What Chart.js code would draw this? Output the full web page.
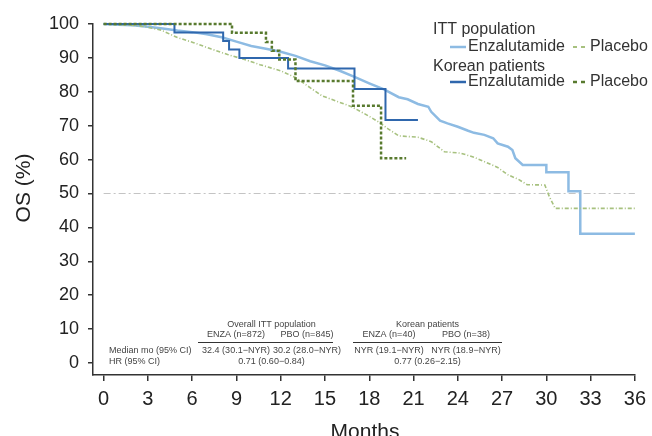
<!DOCTYPE html>
<html>
<head>
<meta charset="utf-8">
<title>OS Kaplan-Meier</title>
<script src="https://cdn.jsdelivr.net/npm/chart.js@4.4.1/dist/chart.umd.min.js"></script>
<style>
  html, body { margin: 0; padding: 0; background: #fff; }
  #wrap { width: 652px; height: 436px; }
</style>
</head>
<body>
<div id="wrap"><canvas id="osChart" width="652" height="436"></canvas></div>
<script>
// Data (months, OS %)
const ittEnzaMonths = [0, 1, 2, 3, 4, 5, 6, 7, 8, 9, 10, 11, 12, 13, 14, 15, 16, 17, 18, 19, 20, 20.6, 21.3, 22, 22.2, 22.8, 23.3, 24, 24.7, 25.1, 25.8, 26.4, 26.7, 27.4, 27.7, 27.9, 28.4, 30.0, 30.0, 31.5, 31.5, 32.3, 32.3, 36];
const ittEnzaOS     = [100, 99.8, 99.6, 99.2, 98.7, 98.1, 97.6, 97.0, 96.1, 94.8, 93.5, 92.7, 91.8, 90.6, 89.0, 87.8, 86.2, 84.4, 82.5, 80.7, 78.4, 77.8, 76.4, 75.6, 74.1, 71.5, 70.7, 69.7, 68.5, 67.9, 67.3, 66.3, 64.8, 63.8, 62.8, 60.4, 58.4, 58.4, 56.3, 56.3, 50.7, 50.7, 38.1, 38.1];

const ittPboMonths = [0, 1, 2, 2.8, 3.9, 5, 6.1, 7.3, 8.4, 9.5, 10.6, 12, 13, 14.2, 14.8, 15.8, 16.8, 17.7, 18.6, 19.3, 20, 21.3, 22.2, 23.1, 24.2, 25.1, 25.8, 26.7, 27.4, 28.1, 28.7, 29.9, 30.2, 30.6, 36];
const ittPboOS     = [100, 99.8, 99.6, 99.2, 98.2, 96.0, 94.5, 92.6, 91.0, 89.6, 88.0, 86.2, 84.2, 80.6, 78.8, 77.2, 75.6, 73.5, 71.2, 69.0, 67.0, 66.6, 65.3, 62.3, 61.9, 60.7, 59.4, 57.7, 55.5, 54.2, 52.6, 52.5, 49.1, 45.6, 45.6];

const korEnzaMonths = [0, 4.8, 8.1, 8.5, 9.2, 12.5, 17.0, 19.1, 21.3];
const korEnzaOS     = [100, 97.5, 95.0, 92.5, 90.0, 86.9, 80.8, 71.7, 71.7];

const korPboMonths = [0, 8.7, 11.0, 11.4, 11.9, 13.0, 16.9, 18.8, 20.5];
const korPboOS     = [100, 97.4, 94.7, 92.1, 89.5, 83.2, 75.9, 60.4, 60.4];

const medianLine = [50, 50];
const medianLineMonths = [0, 36];

const xTicks = [0, 3, 6, 9, 12, 15, 18, 21, 24, 27, 30, 33, 36];
const yTicks = [0, 10, 20, 30, 40, 50, 60, 70, 80, 90, 100];

// Summary table text
const tableGroups = ['Overall ITT population', 'Korean patients'];
const tableArms = ['ENZA (n=872)', 'PBO (n=845)', 'ENZA (n=40)', 'PBO (n=38)'];
const medianRow = ['Median mo (95% CI)', '32.4 (30.1−NYR)', '30.2 (28.0−NYR)', 'NYR (19.1−NYR)', 'NYR (18.9−NYR)'];
const hrRow = ['HR (95% CI)', '0.71 (0.60−0.84)', '0.77 (0.26−2.15)'];

const colors = {
    ittEnza: '#8dbbe3',
    ittPbo: '#a7c17f',
    korEnza: '#2f67ad',
    korPbo: '#587a2e',
    ref: '#c4c4c4',
    axis: '#333333',
    text: '#222222',
    table: '#444444'
};

function toPoints(xs, ys) {
    return xs.map((x, i) => ({ x: x, y: ys[i] }));
}

const FONT = '"Liberation Sans", Arial, Helvetica, sans-serif';

// Axis titles, legend and the summary table
const annotations = {
    id: 'annotations',
    afterDraw(chart) {
        const ctx = chart.ctx;
        ctx.save();

        // axis titles
        ctx.fillStyle = colors.text;
        ctx.font = '21px ' + FONT;
        ctx.textAlign = 'center';
        ctx.textBaseline = 'top';
        ctx.fillText('Months', 365, 422);
        ctx.save();
        ctx.translate(24, 188);
        ctx.rotate(-Math.PI / 2);
        ctx.textBaseline = 'middle';
        ctx.fillText('OS (%)', 0, 0);
        ctx.restore();

        // legend
        ctx.font = '16px ' + FONT;
        ctx.textAlign = 'left';
        ctx.textBaseline = 'middle';
        ctx.fillStyle = '#333';
        ctx.fillText('ITT population', 433, 30);
        ctx.fillText('Enzalutamide', 468, 47);
        ctx.fillText('Placebo', 590, 47);
        ctx.fillText('Korean patients', 433, 67);
        ctx.fillText('Enzalutamide', 468, 82);
        ctx.fillText('Placebo', 590, 82);

        const sample = (x1, x2, y, color, width, dash) => {
            ctx.beginPath();
            ctx.setLineDash(dash);
            ctx.strokeStyle = color;
            ctx.lineWidth = width;
            ctx.moveTo(x1, y);
            ctx.lineTo(x2, y);
            ctx.stroke();
        };
        sample(450, 466, 47, colors.ittEnza, 2.5, []);
        sample(573, 586, 47, colors.ittPbo, 2, [4, 4]);
        sample(450, 466, 82, colors.korEnza, 2.5, []);
        sample(573, 586, 82, colors.korPbo, 2.5, [4, 4]);
        ctx.setLineDash([]);

        // table: arm columns centred under their headers
        const cols = [236, 307, 389, 466];
        ctx.fillStyle = colors.table;
        ctx.font = '9px ' + FONT;
        ctx.textAlign = 'center';
        ctx.fillText(tableGroups[0], (cols[0] + cols[1]) / 2, 325);
        ctx.fillText(tableGroups[1], (cols[2] + cols[3]) / 2, 325);
        tableArms.forEach((t, i) => ctx.fillText(t, cols[i], 335));

        ctx.strokeStyle = '#333';
        ctx.lineWidth = 1;
        ctx.beginPath();
        ctx.moveTo(198, 342.5); ctx.lineTo(333, 342.5);
        ctx.moveTo(353, 342.5); ctx.lineTo(502, 342.5);
        ctx.stroke();

        ctx.textAlign = 'left';
        ctx.fillText(medianRow[0], 109, 351);
        ctx.fillText(hrRow[0], 109, 362);
        ctx.textAlign = 'center';
        medianRow.slice(1).forEach((t, i) => ctx.fillText(t, cols[i], 351));
        ctx.fillText(hrRow[1], (cols[0] + cols[1]) / 2, 362);
        ctx.fillText(hrRow[2], (cols[2] + cols[3]) / 2, 362);

        ctx.restore();
    }
};

const ctx = document.getElementById('osChart').getContext('2d');

const chart = new Chart(ctx, {
    type: 'line',
    data: {
        datasets: [
            {
                label: 'Korean Placebo',
                data: toPoints(korPboMonths, korPboOS),
                borderColor: colors.korPbo,
                borderWidth: 2.5,
                borderDash: [3, 2],
                stepped: 'before'
            },
            {
                label: 'Korean Enzalutamide',
                data: toPoints(korEnzaMonths, korEnzaOS),
                borderColor: colors.korEnza,
                borderWidth: 2,
                stepped: 'before'
            },
            {
                label: 'ITT Placebo',
                data: toPoints(ittPboMonths, ittPboOS),
                borderColor: colors.ittPbo,
                borderWidth: 1.6,
                borderDash: [4, 2, 1, 2]
            },
            {
                label: 'ITT Enzalutamide',
                data: toPoints(ittEnzaMonths, ittEnzaOS),
                borderColor: colors.ittEnza,
                borderWidth: 2.5
            },
            {
                label: 'Median',
                data: toPoints(medianLineMonths, medianLine),
                borderColor: colors.ref,
                borderWidth: 1,
                borderDash: [7, 3, 2, 3]
            }
        ]
    },
    options: {
        responsive: false,
        animation: false,
        devicePixelRatio: 1,
        layout: { padding: { top: 24, right: 14, left: 0, bottom: 0 } },
        elements: {
            point: { radius: 0, hoverRadius: 0 },
            line: { tension: 0, fill: false }
        },
        datasets: { line: { clip: false } },
        plugins: {
            legend: { display: false },
            tooltip: { enabled: false }
        },
        scales: {
            x: {
                type: 'linear',
                min: -0.72,
                max: 36,
                afterBuildTicks: (scale) => { scale.ticks = xTicks.map(v => ({ value: v })); },
                afterFit: (scale) => { scale.height = 61; },
                grid: { drawOnChartArea: false, drawTicks: true, tickLength: 6, color: colors.axis, lineWidth: 1.5 },
                border: { display: true, color: colors.axis, width: 1.5 },
                ticks: {
                    autoSkip: false,
                    maxRotation: 0,
                    padding: 6,
                    color: colors.text,
                    font: { family: FONT, size: 20 }
                }
            },
            y: {
                type: 'linear',
                min: -3.54,
                max: 100,
                afterBuildTicks: (scale) => { scale.ticks = yTicks.map(v => ({ value: v })); },
                afterFit: (scale) => { scale.width = 93; },
                grid: { drawOnChartArea: false, drawTicks: true, tickLength: 5, color: colors.axis, lineWidth: 1.5 },
                border: { display: true, color: colors.axis, width: 1.5 },
                ticks: {
                    padding: 9,
                    color: colors.text,
                    font: { family: FONT, size: 18 }
                }
            }
        }
    },
    plugins: [annotations]
});
</script>
</body>
</html>
